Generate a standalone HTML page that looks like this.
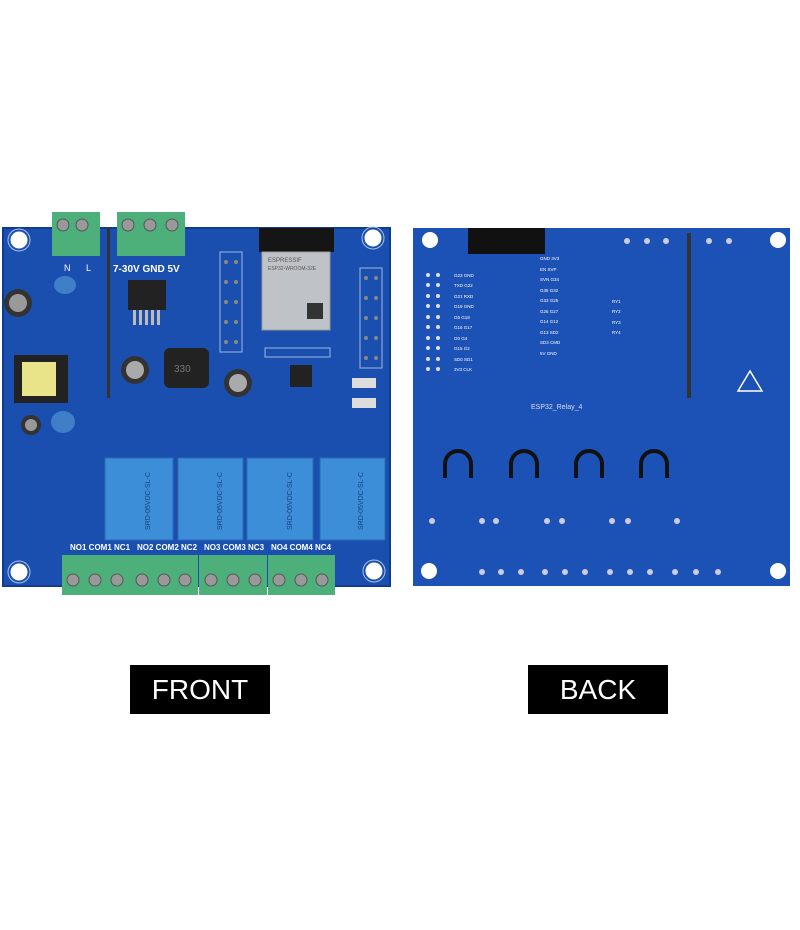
<!DOCTYPE html>
<html><head><meta charset="utf-8"><style>
html,body{margin:0;padding:0;background:#fff;width:800px;height:930px;overflow:hidden}
svg{display:block}
</style></head><body>
<svg width="800" height="930" viewBox="0 0 800 930" xmlns="http://www.w3.org/2000/svg" font-family="Liberation Sans, sans-serif">
<rect width="800" height="930" fill="#fff"/>
<!-- FRONT BOARD -->
<rect x="3" y="228" width="387" height="358" fill="#1a4fb0"/>
<rect x="3" y="228" width="387" height="358" fill="none" stroke="#0f3c90" stroke-width="2"/>
<!-- corner pads -->
<g fill="#fff" stroke="#1a4fb0">
<circle cx="19" cy="240" r="9"/><circle cx="373" cy="238" r="9"/><circle cx="19" cy="572" r="9"/><circle cx="374" cy="571" r="9"/></g>
<g fill="none" stroke="#aac0e8" stroke-width="1"><circle cx="19" cy="240" r="11"/><circle cx="373" cy="238" r="11"/><circle cx="19" cy="572" r="11"/><circle cx="374" cy="571" r="11"/></g>
<!-- top terminals -->
<rect x="52" y="212" width="48" height="44" fill="#4db07a"/>
<rect x="117" y="212" width="68" height="44" fill="#4db07a"/>
<g fill="#999" stroke="#555"><circle cx="63" cy="225" r="6"/><circle cx="82" cy="225" r="6"/><circle cx="128" cy="225" r="6"/><circle cx="150" cy="225" r="6"/><circle cx="172" cy="225" r="6"/></g>
<text x="64" y="271" font-size="9" fill="#fff">N</text><text x="86" y="271" font-size="9" fill="#fff">L</text>
<text x="113" y="272" font-size="10" font-weight="bold" fill="#fff">7-30V GND 5V</text>
<rect x="107" y="228" width="3" height="170" fill="#333"/>
<!-- regulator -->
<rect x="128" y="280" width="38" height="30" fill="#222"/>
<g fill="#bbb"><rect x="133" y="310" width="3" height="15"/><rect x="139" y="310" width="3" height="15"/><rect x="145" y="310" width="3" height="15"/><rect x="151" y="310" width="3" height="15"/><rect x="157" y="310" width="3" height="15"/></g>
<!-- ESP32 -->
<rect x="259" y="228" width="75" height="24" fill="#151515"/>
<rect x="262" y="252" width="68" height="78" fill="#bfc3c8" stroke="#999"/>
<text x="268" y="262" font-size="6" fill="#555">ESPRESSIF</text>
<text x="268" y="270" font-size="5" fill="#555">ESP32-WROOM-32E</text>
<rect x="307" y="303" width="16" height="16" fill="#333"/>
<!-- headers -->
<rect x="220" y="252" width="22" height="100" fill="#1a4fb0" stroke="#9fb6e0"/>
<rect x="360" y="268" width="22" height="100" fill="#1a4fb0" stroke="#9fb6e0"/>
<rect x="265" y="348" width="65" height="9" fill="#1a4fb0" stroke="#9fb6e0"/>
<g fill="#888"><circle cx="226" cy="262" r="2"/><circle cx="236" cy="262" r="2"/><circle cx="226" cy="282" r="2"/><circle cx="236" cy="282" r="2"/><circle cx="226" cy="302" r="2"/><circle cx="236" cy="302" r="2"/><circle cx="226" cy="322" r="2"/><circle cx="236" cy="322" r="2"/><circle cx="226" cy="342" r="2"/><circle cx="236" cy="342" r="2"/>
<circle cx="366" cy="278" r="2"/><circle cx="376" cy="278" r="2"/><circle cx="366" cy="298" r="2"/><circle cx="376" cy="298" r="2"/><circle cx="366" cy="318" r="2"/><circle cx="376" cy="318" r="2"/><circle cx="366" cy="338" r="2"/><circle cx="376" cy="338" r="2"/><circle cx="366" cy="358" r="2"/><circle cx="376" cy="358" r="2"/></g>
<!-- caps, inductor, transformer -->
<circle cx="18" cy="303" r="14" fill="#333"/><circle cx="18" cy="303" r="9" fill="#999"/>
<circle cx="135" cy="370" r="14" fill="#333"/><circle cx="135" cy="370" r="9" fill="#aaa"/>
<circle cx="238" cy="383" r="14" fill="#333"/><circle cx="238" cy="383" r="9" fill="#aaa"/>
<circle cx="31" cy="425" r="10" fill="#333"/><circle cx="31" cy="425" r="6" fill="#999"/>
<rect x="164" y="348" width="45" height="40" rx="6" fill="#222"/><text x="174" y="372" font-size="10" fill="#777">330</text>
<rect x="14" y="355" width="54" height="48" fill="#222"/><rect x="22" y="362" width="34" height="34" fill="#e9e38a"/>
<ellipse cx="65" cy="285" rx="11" ry="9" fill="#3f7fc8"/><ellipse cx="63" cy="422" rx="12" ry="11" fill="#3f7fc8"/>
<rect x="352" y="378" width="24" height="10" fill="#ddd"/><rect x="352" y="398" width="24" height="10" fill="#ddd"/>
<rect x="290" y="365" width="22" height="22" fill="#222"/>
<!-- relays -->
<g fill="#3d8ed8" stroke="#2a6bb0"><rect x="105" y="458" width="68" height="82"/><rect x="178" y="458" width="65" height="82"/><rect x="247" y="458" width="66" height="82"/><rect x="320" y="458" width="65" height="82"/></g>
<g font-size="7" fill="#1a3f80"><text transform="translate(150,530) rotate(-90)">SRD-05VDC-SL-C</text><text transform="translate(222,530) rotate(-90)">SRD-05VDC-SL-C</text><text transform="translate(292,530) rotate(-90)">SRD-05VDC-SL-C</text><text transform="translate(363,530) rotate(-90)">SRD-05VDC-SL-C</text></g>
<!-- bottom labels and terminals -->
<g font-size="8" font-weight="bold" fill="#fff"><text x="70" y="550">NO1 COM1 NC1</text><text x="137" y="550">NO2 COM2 NC2</text><text x="204" y="550">NO3 COM3 NC3</text><text x="271" y="550">NO4 COM4 NC4</text></g>
<g fill="#4db07a"><rect x="62" y="555" width="68" height="40"/><rect x="130" y="555" width="68" height="40"/><rect x="199" y="555" width="68" height="40"/><rect x="268" y="555" width="67" height="40"/></g>
<g fill="#999" stroke="#555"><circle cx="73" cy="580" r="6"/><circle cx="95" cy="580" r="6"/><circle cx="117" cy="580" r="6"/><circle cx="142" cy="580" r="6"/><circle cx="164" cy="580" r="6"/><circle cx="185" cy="580" r="6"/><circle cx="211" cy="580" r="6"/><circle cx="233" cy="580" r="6"/><circle cx="255" cy="580" r="6"/><circle cx="279" cy="580" r="6"/><circle cx="301" cy="580" r="6"/><circle cx="322" cy="580" r="6"/></g>

<!-- BACK BOARD -->
<rect x="413" y="228" width="377" height="358" fill="#1c52b5"/>
<g fill="#fff"><circle cx="430" cy="240" r="8"/><circle cx="778" cy="240" r="8"/><circle cx="429" cy="571" r="8"/><circle cx="778" cy="571" r="8"/></g>
<rect x="468" y="228" width="77" height="26" fill="#111"/>
<rect x="687" y="233" width="4" height="165" fill="#333"/>
<g fill="#ccd" ><circle cx="627" cy="241" r="3"/><circle cx="647" cy="241" r="3"/><circle cx="666" cy="241" r="3"/><circle cx="709" cy="241" r="3"/><circle cx="729" cy="241" r="3"/></g>
<g font-size="4.5" fill="#fff"><text x="454" y="277">G23 GND</text><text x="454" y="287">TXD G22</text><text x="454" y="298">G21 RXD</text><text x="454" y="308">G19 GND</text><text x="454" y="319">G5 G18</text><text x="454" y="329">G16 G17</text><text x="454" y="340">G0 G4</text><text x="454" y="350">G15 G2</text><text x="454" y="361">SD0 SD1</text><text x="454" y="371">3V3 CLK</text>
<text x="540" y="260">GND 3V3</text><text x="540" y="271">EN SVP</text><text x="540" y="281">SVN G34</text><text x="540" y="292">G35 G32</text><text x="540" y="302">G33 G25</text><text x="540" y="313">G26 G27</text><text x="540" y="323">G14 G12</text><text x="540" y="334">G13 SD2</text><text x="540" y="344">SD3 CMD</text><text x="540" y="355">5V GND</text>
<text x="612" y="303">RY1</text><text x="612" y="313">RY2</text><text x="612" y="324">RY3</text><text x="612" y="334">RY4</text></g>
<g fill="#dde"><circle cx="428" cy="275" r="2"/><circle cx="438" cy="275" r="2"/><circle cx="428" cy="285" r="2"/><circle cx="438" cy="285" r="2"/><circle cx="428" cy="296" r="2"/><circle cx="438" cy="296" r="2"/><circle cx="428" cy="306" r="2"/><circle cx="438" cy="306" r="2"/><circle cx="428" cy="317" r="2"/><circle cx="438" cy="317" r="2"/><circle cx="428" cy="327" r="2"/><circle cx="438" cy="327" r="2"/><circle cx="428" cy="338" r="2"/><circle cx="438" cy="338" r="2"/><circle cx="428" cy="348" r="2"/><circle cx="438" cy="348" r="2"/><circle cx="428" cy="359" r="2"/><circle cx="438" cy="359" r="2"/><circle cx="428" cy="369" r="2"/><circle cx="438" cy="369" r="2"/></g>
<text x="531" y="409" font-size="7" fill="#dde">ESP32_Relay_4</text>
<path d="M750,371 L738,391 L762,391 Z" fill="none" stroke="#fff" stroke-width="1.5"/>
<g fill="none" stroke="#111" stroke-width="4"><path d="M445,478 v-14 a10,10 0 0 1 26,0 v14"/><path d="M511,478 v-14 a10,10 0 0 1 26,0 v14"/><path d="M576,478 v-14 a10,10 0 0 1 26,0 v14"/><path d="M641,478 v-14 a10,10 0 0 1 26,0 v14"/></g>
<g fill="#ccd"><circle cx="482" cy="521" r="3"/><circle cx="496" cy="521" r="3"/><circle cx="547" cy="521" r="3"/><circle cx="562" cy="521" r="3"/><circle cx="612" cy="521" r="3"/><circle cx="628" cy="521" r="3"/><circle cx="677" cy="521" r="3"/><circle cx="432" cy="521" r="3"/>
<circle cx="482" cy="572" r="3"/><circle cx="501" cy="572" r="3"/><circle cx="521" cy="572" r="3"/><circle cx="545" cy="572" r="3"/><circle cx="565" cy="572" r="3"/><circle cx="585" cy="572" r="3"/><circle cx="610" cy="572" r="3"/><circle cx="630" cy="572" r="3"/><circle cx="650" cy="572" r="3"/><circle cx="675" cy="572" r="3"/><circle cx="696" cy="572" r="3"/><circle cx="718" cy="572" r="3"/></g>

<!-- labels -->
<rect x="130" y="665" width="140" height="49" fill="#000"/>
<text x="200" y="699" font-size="28" fill="#fff" text-anchor="middle">FRONT</text>
<rect x="528" y="665" width="140" height="49" fill="#000"/>
<text x="598" y="699" font-size="28" fill="#fff" text-anchor="middle">BACK</text>
</svg>
</body></html>
